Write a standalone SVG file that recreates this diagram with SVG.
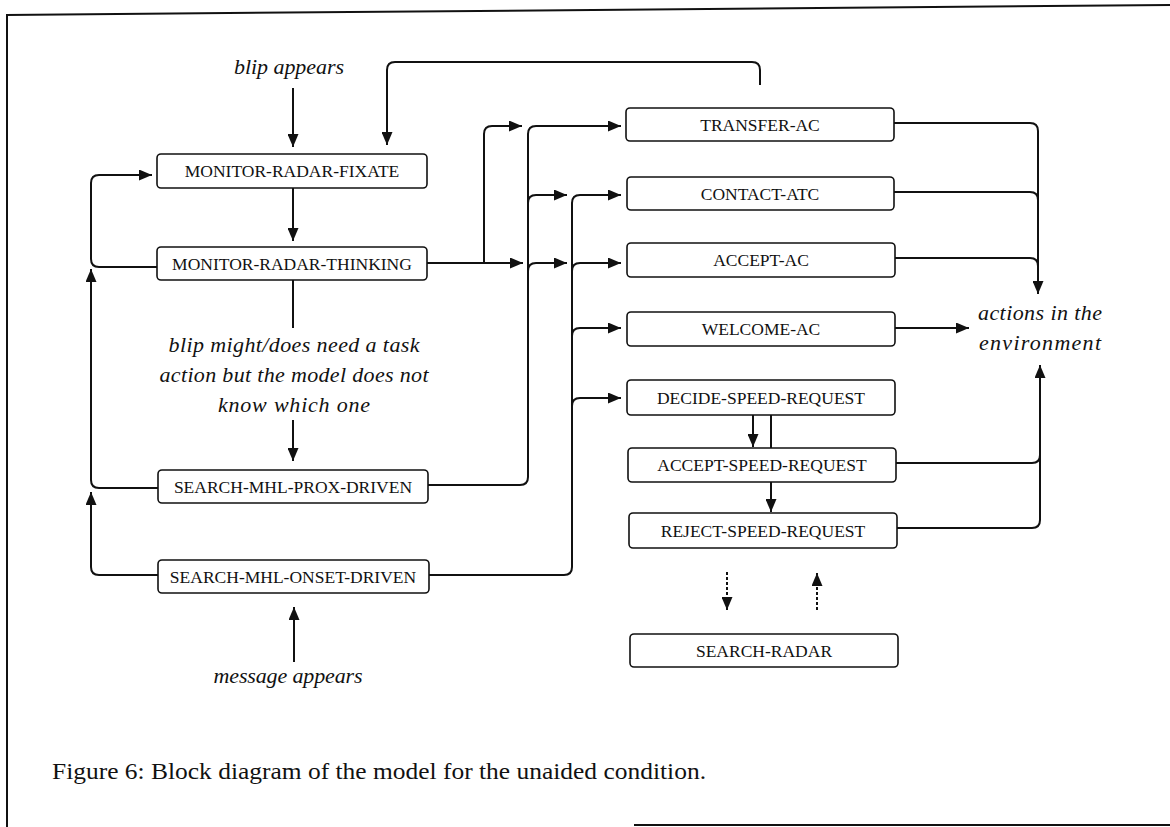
<svg xmlns="http://www.w3.org/2000/svg" width="1170" height="827" viewBox="0 0 1170 827">
<style>
  .frame{fill:none;stroke:#111;stroke-width:2}
  .box{fill:#fff;stroke:#111;stroke-width:1.6}
  .lbl{font-family:"Liberation Serif","Times New Roman",serif;font-size:17.5px;fill:#111;text-anchor:middle}
  .it{font-family:"Liberation Serif","Times New Roman",serif;font-style:italic;font-size:22px;fill:#111;text-anchor:middle}
  .cap{font-family:"Liberation Serif","Times New Roman",serif;font-size:23px;fill:#111}
  .c{fill:none;stroke:#111;stroke-width:2}
  .ca{fill:none;stroke:#111;stroke-width:2;marker-end:url(#ah)}
  .da{fill:none;stroke:#111;stroke-width:2;stroke-dasharray:3 2;marker-end:url(#ah)}
</style>
<defs>
  <marker id="ah" viewBox="0 0 13 11" markerUnits="userSpaceOnUse" markerWidth="13" markerHeight="11" refX="13" refY="5.5" orient="auto">
    <path d="M0,0 L13,5.5 L0,11 z" fill="#111"/>
  </marker>
</defs>
<rect x="0" y="0" width="1170" height="827" fill="#fff"/>
<g id="frame">
  <path class="frame" d="M6,15 L1170,5"/>
  <path class="frame" d="M7,15 V827"/>
  <path class="frame" d="M634,825 H1170"/>
</g>
<g id="connectors">
  <path class="ca" d="M293,88 V147"/>
  <path class="ca" d="M293,188 V241"/>
  <path class="ca" d="M760,85 V70 Q760,62 752,62 H395 Q387,62 387,70 V145"/>
  <path class="ca" d="M157,267 H99 Q91,267 91,259 V183 Q91,175 99,175 H152"/>
  <path class="ca" d="M158,488 H99 Q91,488 91,480 V269"/>
  <path class="ca" d="M158,575 H99 Q91,575 91,567 V492"/>
  <path class="ca" d="M427,263 H523"/>
  <path class="ca" d="M484,263 V134 Q484,126 492,126 H522"/>
  <path class="ca" d="M428,485 H520 Q528,485 528,477 V134 Q528,126 536,126 H621"/>
  <path class="ca" d="M528,203 Q528,195 536,195 H567"/>
  <path class="ca" d="M528,271 Q528,263 536,263 H567"/>
  <path class="ca" d="M429,575 H564 Q572,575 572,567 V203 Q572,195 580,195 H621"/>
  <path class="ca" d="M572,271 Q572,263 580,263 H621"/>
  <path class="ca" d="M572,336 Q572,328 580,328 H621"/>
  <path class="ca" d="M572,406 Q572,398 580,398 H621"/>
  <path class="ca" d="M894,123 H1030 Q1038,123 1038,131 V294"/>
  <path class="c" d="M894,192 H1030 Q1038,192 1038,200"/>
  <path class="c" d="M895,258 H1030 Q1038,258 1038,266"/>
  <path class="ca" d="M895,328 H969"/>
  <path class="c" d="M896,463 H1032 Q1040,463 1040,455"/>
  <path class="ca" d="M897,528 H1032 Q1040,528 1040,520 V365"/>
  <path class="ca" d="M753,415 V447"/>
  <path class="c" d="M771,415 V448"/>
  <path class="ca" d="M771,482 V512"/>
  <path class="c" d="M293,280 V328"/>
  <path class="ca" d="M293,420 V461"/>
  <path class="ca" d="M294,662 V607"/>
  <path class="da" d="M727,572 V610"/>
  <path class="da" d="M817,610 V573"/>
</g>
<g id="blip-appears"><text class="it" x="289" y="74" textLength="110">blip appears</text></g>
<g id="message-appears"><text class="it" x="288" y="683" textLength="149">message appears</text></g>
<g id="blip-note">
  <text class="it" x="294" y="352" textLength="251">blip might/does need a task</text>
  <text class="it" x="294" y="382" textLength="269">action but the model does not</text>
  <text class="it" x="294" y="412" textLength="152">know which one</text>
</g>
<g id="actions-env">
  <text class="it" x="1040" y="320" textLength="124">actions in the</text>
  <text class="it" x="1040" y="350" textLength="122">environment</text>
</g>
<g id="monitor-radar-fixate"><rect class="box" x="157" y="154" width="270" height="34" rx="4"/><text class="lbl" x="292" y="177">MONITOR-RADAR-FIXATE</text></g>
<g id="monitor-radar-thinking"><rect class="box" x="157" y="247" width="270" height="33" rx="4"/><text class="lbl" x="292" y="270">MONITOR-RADAR-THINKING</text></g>
<g id="search-mhl-prox-driven"><rect class="box" x="158" y="470" width="270" height="33" rx="4"/><text class="lbl" x="293" y="493">SEARCH-MHL-PROX-DRIVEN</text></g>
<g id="search-mhl-onset-driven"><rect class="box" x="158" y="560" width="271" height="33" rx="4"/><text class="lbl" x="293" y="583">SEARCH-MHL-ONSET-DRIVEN</text></g>
<g id="transfer-ac"><rect class="box" x="626" y="108" width="268" height="33" rx="4"/><text class="lbl" x="760" y="131">TRANSFER-AC</text></g>
<g id="contact-atc"><rect class="box" x="627" y="177" width="267" height="33" rx="4"/><text class="lbl" x="760" y="200">CONTACT-ATC</text></g>
<g id="accept-ac"><rect class="box" x="627" y="243" width="268" height="34" rx="4"/><text class="lbl" x="761" y="266">ACCEPT-AC</text></g>
<g id="welcome-ac"><rect class="box" x="627" y="312" width="268" height="34" rx="4"/><text class="lbl" x="761" y="335">WELCOME-AC</text></g>
<g id="decide-speed-request"><rect class="box" x="627" y="380" width="268" height="35" rx="4"/><text class="lbl" x="761" y="404">DECIDE-SPEED-REQUEST</text></g>
<g id="accept-speed-request"><rect class="box" x="628" y="448" width="268" height="34" rx="4"/><text class="lbl" x="762" y="471">ACCEPT-SPEED-REQUEST</text></g>
<g id="reject-speed-request"><rect class="box" x="629" y="513" width="268" height="35" rx="4"/><text class="lbl" x="763" y="537">REJECT-SPEED-REQUEST</text></g>
<g id="search-radar"><rect class="box" x="630" y="634" width="268" height="33" rx="4"/><text class="lbl" x="764" y="657">SEARCH-RADAR</text></g>
<g id="caption"><text class="cap" x="52" y="779" textLength="654" lengthAdjust="spacingAndGlyphs">Figure 6: Block diagram of the model for the unaided condition.</text></g>
</svg>
